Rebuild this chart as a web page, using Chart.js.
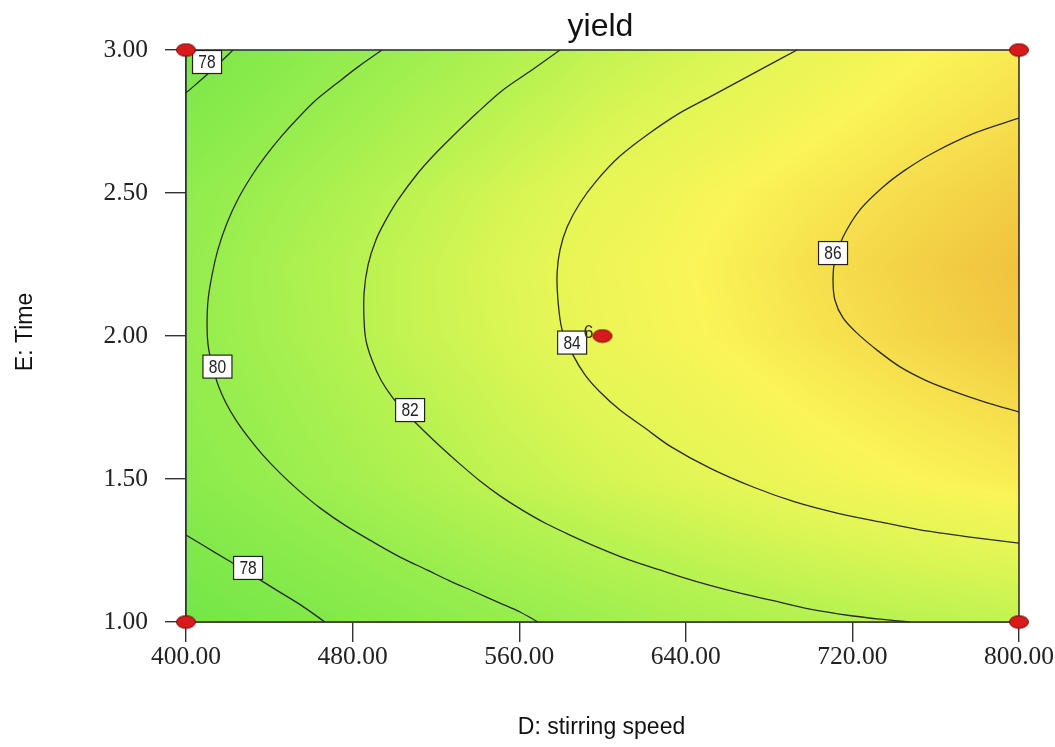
<!DOCTYPE html>
<html><head><meta charset="utf-8">
<script src="https://cdn.jsdelivr.net/npm/chart.js@4"></script>
<style>html,body{margin:0;padding:0;background:#fff;overflow:hidden}</style>
</head><body>
<canvas id="c" width="1055" height="747"></canvas>
<script>
// ---- Data ----
const chartTitle = 'yield';
const xTitle = 'D: stirring speed';
const yTitle = 'E: Time';
const xTicks = [400, 480, 560, 640, 720, 800];
const yTicks = [1.0, 1.5, 2.0, 2.5, 3.0];

// estimated yield surface (for background colour), columns = speed, rows = time
const gridSpeed = [400, 450, 500, 550, 600, 650, 700, 750, 800];
const gridTime = [1.0, 1.5, 2.0, 2.25, 2.5, 3.0];
const yieldT100 = [76.7, 77.7, 78.7, 79.6, 80.4, 81.1, 81.6, 82.0, 82.3];
const yieldT150 = [78.9, 80.1, 81.2, 82.3, 83.1, 83.8, 84.5, 85.0, 85.4];
const yieldT200 = [79.7, 81.0, 82.3, 83.3, 84.3, 85.0, 85.7, 86.3, 86.8];
const yieldT225 = [79.7, 81.1, 82.3, 83.4, 84.4, 85.1, 85.9, 86.5, 87.0];
const yieldT250 = [79.3, 80.6, 81.9, 83.0, 84.0, 84.8, 85.5, 86.1, 86.6];
const yieldT300 = [77.4, 78.8, 80.1, 81.3, 82.4, 83.2, 84.1, 84.9, 85.5];

// contour lines
const c78aX = [400, 411.5, 422.6];
const c78aY = [2.85, 2.923, 3.0];
const c78bX = [400, 414.4, 428.8, 442.7, 455.2, 466.7];
const c78bY = [1.304, 1.241, 1.178, 1.115, 1.059, 1.0];
const c80X = [494.1, 482.6, 472.0, 462.4, 453.8, 445.6, 437.9, 431.2, 425.0, 419.7, 415.4, 412.5, 410.6, 410.1, 410.6, 412.5, 415.4, 419.2, 424.0, 429.8, 436.5, 444.7, 453.8, 464.3, 476.8, 489.8, 502.8, 515.7, 526.8, 538.8, 550.8, 560.4, 569.0];
const c80Y = [3.0, 2.941, 2.881, 2.825, 2.762, 2.696, 2.626, 2.556, 2.479, 2.395, 2.304, 2.213, 2.126, 2.038, 1.969, 1.899, 1.829, 1.766, 1.706, 1.647, 1.587, 1.524, 1.462, 1.399, 1.336, 1.28, 1.227, 1.182, 1.143, 1.105, 1.066, 1.035, 1.0];
const c82X = [579.6, 566.1, 552.2, 540.2, 527.7, 519.1, 511.4, 501.8, 496.0, 491.2, 487.4, 485.5, 485.5, 486.4, 489.3, 493.6, 499.4, 506.6, 514.3, 522.4, 531.6, 541.2, 550.8, 561.3, 572.4, 584.4, 597.4, 611.8, 627.6, 644.4, 662.2, 680.4, 699.6, 720.3, 733.3, 747.7];
const c82Y = [3.0, 2.93, 2.86, 2.783, 2.696, 2.633, 2.57, 2.476, 2.406, 2.336, 2.248, 2.15, 2.056, 1.986, 1.916, 1.846, 1.783, 1.724, 1.668, 1.612, 1.552, 1.493, 1.441, 1.392, 1.346, 1.304, 1.262, 1.22, 1.182, 1.143, 1.108, 1.077, 1.045, 1.021, 1.01, 1.0];
const c84X = [693.4, 669.4, 651.6, 637.2, 621.4, 608.4, 597.4, 589.2, 583.0, 579.6, 578.2, 578.6, 580.6, 585.8, 591.6, 598.8, 608.4, 620.4, 632.4, 651.6, 672.3, 692.4, 712.6, 733.3, 752.5, 776.5, 800];
const c84Y = [3.0, 2.906, 2.836, 2.78, 2.703, 2.629, 2.545, 2.465, 2.381, 2.301, 2.22, 2.126, 2.021, 1.934, 1.864, 1.804, 1.741, 1.678, 1.615, 1.538, 1.472, 1.42, 1.381, 1.35, 1.322, 1.297, 1.276];
const c86X = [800, 778.9, 758.7, 745.3, 734.7, 723.6, 715.5, 711.6, 710.7, 711.6, 715.5, 722.2, 732.3, 742.9, 754.9, 766.9, 783.7, 800];
const c86Y = [2.762, 2.71, 2.64, 2.58, 2.521, 2.441, 2.346, 2.266, 2.196, 2.126, 2.063, 2.01, 1.948, 1.892, 1.846, 1.811, 1.769, 1.734];

// contour labels
const labelText = ['78', '80', '82', '84', '86', '78'];
const labelX = [410.1, 415.1, 507.6, 585.4, 710.7, 429.8];
const labelY = [2.958, 1.893, 1.741, 1.977, 2.29, 1.189];

// design points
const designX = [400, 400, 800, 800, 600];
const designY = [1.0, 3.0, 1.0, 3.0, 2.0];
const centerReps = '6';

// ---- helpers ----
const gridRows = [yieldT100, yieldT150, yieldT200, yieldT225, yieldT250, yieldT300];
function findIdx(arr, v) {
  if (v <= arr[0]) return 0;
  for (let i = 0; i < arr.length - 1; i++) if (v <= arr[i + 1]) return i;
  return arr.length - 2;
}
function sample(s, t) {
  const i = findIdx(gridSpeed, s), j = findIdx(gridTime, t);
  let fx = (s - gridSpeed[i]) / (gridSpeed[i + 1] - gridSpeed[i]);
  let fy = (t - gridTime[j]) / (gridTime[j + 1] - gridTime[j]);
  fx = Math.max(0, Math.min(1, fx)); fy = Math.max(0, Math.min(1, fy));
  const a = gridRows[j][i], b = gridRows[j][i + 1], c = gridRows[j + 1][i], d = gridRows[j + 1][i + 1];
  return (a * (1 - fx) + b * fx) * (1 - fy) + (c * (1 - fx) + d * fx) * fy;
}
const colorStops = [
  [76.5, [114, 229, 72]],
  [78, [129, 233, 74]],
  [80, [152, 238, 78]],
  [82, [186, 243, 81]],
  [83.5, [222, 246, 84]],
  [85, [250, 245, 88]],
  [86, [246, 222, 76]],
  [87, [240, 195, 62]]
];
function colorFor(v) {
  if (v <= colorStops[0][0]) return colorStops[0][1];
  for (let k = 0; k < colorStops.length - 1; k++) {
    const [v0, c0] = colorStops[k], [v1, c1] = colorStops[k + 1];
    if (v <= v1) {
      const f = (v - v0) / (v1 - v0);
      return [c0[0] + (c1[0] - c0[0]) * f, c0[1] + (c1[1] - c0[1]) * f, c0[2] + (c1[2] - c0[2]) * f];
    }
  }
  return colorStops[colorStops.length - 1][1];
}
function pts(xs, ys) { return xs.map((v, i) => ({ x: v, y: ys[i] })); }

// design-point marker (ellipse)
const dot = document.createElement('canvas');
dot.width = 22; dot.height = 15;
(function () {
  const g = dot.getContext('2d');
  g.beginPath(); g.ellipse(11, 7.5, 9.5, 6.3, 0, 0, Math.PI * 2);
  g.fillStyle = '#d81a1a'; g.fill();
  g.lineWidth = 1; g.strokeStyle = '#6e0a0a'; g.stroke();
})();

const fieldPlugin = {
  id: 'field',
  beforeDatasetsDraw(chart) {
    const { ctx, chartArea: a, scales: { x, y } } = chart;
    const w = Math.round(a.right - a.left), h = Math.round(a.bottom - a.top);
    const off = document.createElement('canvas'); off.width = w; off.height = h;
    const octx = off.getContext('2d');
    const img = octx.createImageData(w, h);
    const sv = []; for (let i = 0; i < w; i++) sv.push(x.getValueForPixel(a.left + i + 0.5));
    for (let j = 0; j < h; j++) {
      const t = y.getValueForPixel(a.top + j + 0.5);
      for (let i = 0; i < w; i++) {
        const c = colorFor(sample(sv[i], t));
        const p = (j * w + i) * 4;
        img.data[p] = c[0]; img.data[p + 1] = c[1]; img.data[p + 2] = c[2]; img.data[p + 3] = 255;
      }
    }
    octx.putImageData(img, 0, 0);
    ctx.save();
    ctx.drawImage(off, a.left, a.top);
    ctx.strokeStyle = '#333'; ctx.lineWidth = 1.6;
    ctx.strokeRect(a.left, a.top, a.right - a.left, a.bottom - a.top);
    ctx.restore();
  },
  afterDatasetDraw(chart, args) {
    if (args.index !== 1) return;
    const { ctx, scales: { x, y } } = chart;
    ctx.save();
    for (let k = 0; k < labelText.length; k++) {
      const px = x.getPixelForValue(labelX[k]), py = y.getPixelForValue(labelY[k]);
      ctx.fillStyle = '#fff'; ctx.strokeStyle = '#222'; ctx.lineWidth = 1.2;
      ctx.fillRect(px - 14.5, py - 11.5, 29, 23);
      ctx.strokeRect(px - 14.5, py - 11.5, 29, 23);
      ctx.save();
      ctx.translate(px, py + 1);
      ctx.scale(0.82, 1);
      ctx.fillStyle = '#222'; ctx.font = '19px "Liberation Sans", Arial, sans-serif';
      ctx.textAlign = 'center'; ctx.textBaseline = 'middle';
      ctx.fillText(labelText[k], 0, 0);
      ctx.restore();
    }
    // replicate count next to the centre point
    const cx = x.getPixelForValue(designX[4]), cy = y.getPixelForValue(designY[4]);
    ctx.fillStyle = '#333'; ctx.font = '18px "Liberation Sans", Arial, sans-serif';
    ctx.textAlign = 'center'; ctx.textBaseline = 'middle';
    ctx.fillText(centerReps, cx - 14, cy - 3);
    ctx.restore();
  },
  afterDraw(chart) {
    const { ctx, chartArea: a } = chart;
    ctx.save();
    ctx.fillStyle = '#111';
    ctx.textAlign = 'center'; ctx.textBaseline = 'alphabetic';
    ctx.font = '32px "Liberation Sans", Arial, sans-serif';
    ctx.fillText(chartTitle, (a.left + a.right) / 2 - 2, 36);
    ctx.font = '23px "Liberation Sans", Arial, sans-serif';
    ctx.fillText(xTitle, (a.left + a.right) / 2 - 1, 734);
    ctx.translate(32, (a.top + a.bottom) / 2 - 4);
    ctx.rotate(-Math.PI / 2);
    ctx.fillText(yTitle, 0, 0);
    ctx.restore();
  }
};

const lineStyle = { showLine: true, borderColor: '#2a2a2a', borderWidth: 1.3, pointRadius: 0, pointHoverRadius: 0, tension: 0.3, fill: false };

new Chart(document.getElementById('c'), {
  type: 'scatter',
  data: {
    datasets: [
      { label: 'design', data: pts(designX, designY), pointStyle: dot, pointRadius: 8, showLine: false, clip: false },
      Object.assign({ label: '78a', data: pts(c78aX, c78aY) }, lineStyle),
      Object.assign({ label: '78b', data: pts(c78bX, c78bY) }, lineStyle),
      Object.assign({ label: '80', data: pts(c80X, c80Y) }, lineStyle),
      Object.assign({ label: '82', data: pts(c82X, c82Y) }, lineStyle),
      Object.assign({ label: '84', data: pts(c84X, c84Y) }, lineStyle),
      Object.assign({ label: '86', data: pts(c86X, c86Y) }, lineStyle)
    ]
  },
  options: {
    responsive: false, animation: false, devicePixelRatio: 1,
    layout: { padding: { left: 0, right: 36, top: 50, bottom: 0 } },
    plugins: { legend: { display: false }, tooltip: { enabled: false }, title: { display: false } },
    scales: {
      x: {
        type: 'linear', min: 400, max: 800,
        afterBuildTicks: s => { s.ticks = xTicks.map(v => ({ value: v })); },
        afterFit: s => { s.height = 125; },
        grid: { display: true, drawOnChartArea: false, drawTicks: true, tickLength: 20, color: '#333', lineWidth: 1.4 },
        border: { display: true, color: '#333', width: 1.6 },
        ticks: { color: '#222', padding: 0, maxRotation: 0, autoSkip: false,
          font: { family: '"Liberation Serif", "Times New Roman", serif', size: 25.5 },
          callback: v => Number(v).toFixed(2) }
      },
      y: {
        type: 'linear', min: 1, max: 3,
        afterBuildTicks: s => { s.ticks = yTicks.map(v => ({ value: v })); },
        afterFit: s => { s.width = 186; },
        grid: { display: true, drawOnChartArea: false, drawTicks: true, tickLength: 21, color: '#333', lineWidth: 1.4 },
        border: { display: true, color: '#333', width: 1.6 },
        ticks: { color: '#222', padding: 17, autoSkip: false,
          font: { family: '"Liberation Serif", "Times New Roman", serif', size: 25.5 },
          callback: v => Number(v).toFixed(2) }
      }
    }
  },
  plugins: [fieldPlugin]
});
</script>
</body></html>
